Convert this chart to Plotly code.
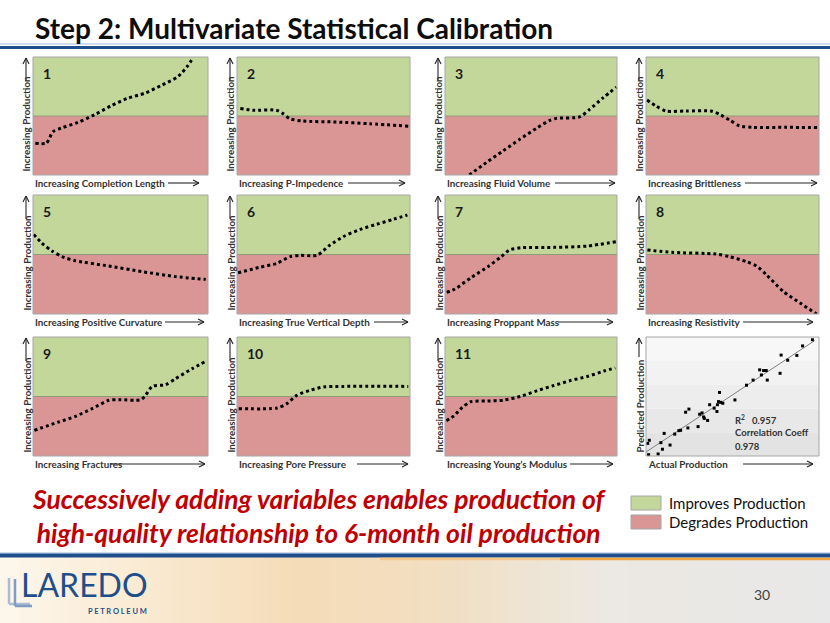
import plotly.graph_objects as go
import numpy as np

W, H = 830, 623

# ---------------- data (x, y as fraction of panel; 0.5 = neutral line) -------------
p1_x = [0.013, 0.076, 0.114, 0.162, 0.257, 0.352, 0.448, 0.543, 0.638, 0.733, 0.829, 0.886, 0.914]
p1_y = [0.27, 0.27, 0.366, 0.398, 0.446, 0.511, 0.588, 0.651, 0.693, 0.759, 0.835, 0.929, 0.994]
p2_x = [0.019, 0.093, 0.228, 0.266, 0.305, 0.382, 0.575, 0.768, 0.99]
p2_y = [0.563, 0.549, 0.549, 0.52, 0.477, 0.457, 0.449, 0.434, 0.414]
p3_x = [0.141, 0.242, 0.338, 0.435, 0.532, 0.609, 0.648, 0.783, 0.841, 0.919, 0.996]
p3_y = [0.0, 0.107, 0.205, 0.303, 0.396, 0.463, 0.48, 0.492, 0.556, 0.654, 0.744]
p4_x = [0.006, 0.058, 0.116, 0.232, 0.376, 0.425, 0.483, 0.541, 0.618, 0.811, 0.994]
p4_y = [0.635, 0.584, 0.542, 0.542, 0.542, 0.514, 0.466, 0.416, 0.404, 0.404, 0.402]
p5_x = [0.004, 0.052, 0.109, 0.166, 0.242, 0.433, 0.624, 0.815, 0.987]
p5_y = [0.669, 0.594, 0.529, 0.482, 0.448, 0.403, 0.356, 0.314, 0.291]
p6_x = [0.006, 0.129, 0.231, 0.308, 0.365, 0.462, 0.538, 0.615, 0.712, 0.808, 0.904, 0.985]
p6_y = [0.347, 0.392, 0.426, 0.482, 0.493, 0.493, 0.58, 0.65, 0.711, 0.754, 0.796, 0.832]
p7_x = [0.01, 0.058, 0.154, 0.25, 0.327, 0.375, 0.442, 0.635, 0.827, 0.996]
p7_y = [0.182, 0.21, 0.308, 0.398, 0.482, 0.538, 0.557, 0.56, 0.571, 0.608]
p8_x = [0.008, 0.15, 0.404, 0.482, 0.58, 0.639, 0.697, 0.795, 0.893, 0.986]
p8_y = [0.538, 0.518, 0.504, 0.482, 0.44, 0.403, 0.328, 0.188, 0.09, 0.0]
p9_x = [0.008, 0.147, 0.242, 0.338, 0.433, 0.49, 0.615, 0.643, 0.681, 0.758, 0.815, 0.91, 0.99]
p9_y = [0.216, 0.286, 0.333, 0.398, 0.468, 0.473, 0.473, 0.51, 0.585, 0.599, 0.65, 0.734, 0.798]
p10_x = [0.01, 0.231, 0.288, 0.346, 0.423, 0.5, 0.615, 0.99]
p10_y = [0.398, 0.403, 0.44, 0.51, 0.552, 0.58, 0.585, 0.585]
p11_x = [0.008, 0.052, 0.101, 0.149, 0.246, 0.342, 0.439, 0.536, 0.632, 0.729, 0.826, 0.923, 0.99]
p11_y = [0.296, 0.338, 0.408, 0.456, 0.462, 0.47, 0.501, 0.549, 0.592, 0.634, 0.668, 0.713, 0.741]

actual_prod = [0.010, 0.019, 0.015, 0.070, 0.086, 0.095, 0.105, 0.139, 0.166, 0.190, 0.200,
               0.229, 0.248, 0.242, 0.301, 0.310, 0.324, 0.333, 0.337, 0.356, 0.368, 0.394,
               0.410, 0.413, 0.419, 0.425, 0.432, 0.444, 0.514, 0.581, 0.619, 0.657, 0.667,
               0.680, 0.695, 0.701, 0.775, 0.781, 0.819, 0.872, 0.905, 0.962]
predicted_prod = [0.106, 0.132, 0.011, 0.017, 0.112, 0.057, 0.190, 0.092, 0.184, 0.213, 0.216,
                  0.368, 0.394, 0.236, 0.247, 0.351, 0.362, 0.328, 0.316, 0.299, 0.431, 0.402,
                  0.374, 0.431, 0.457, 0.534, 0.451, 0.443, 0.471, 0.595, 0.638, 0.724, 0.681,
                  0.718, 0.718, 0.638, 0.695, 0.848, 0.805, 0.845, 0.925, 0.977]

x_labels = ["Increasing Completion Length", "Increasing P-Impedence", "Increasing Fluid Volume",
            "Increasing Brittleness", "Increasing Positive Curvature", "Increasing True Vertical Depth",
            "Increasing Proppant Mass", "Increasing Resistivity", "Increasing Fractures",
            "Increasing Pore Pressure", "Increasing Young’s Modulus", "Actual Production"]
y_labels = ["Increasing Production"] * 11 + ["Predicted Production"]
panel_numbers = ["1", "2", "3", "4", "5", "6", "7", "8", "9", "10", "11"]
r2_text = "R<sup>2</sup>   0.957"
corr_text = "Correlation Coeff"
corr_value = "0.978"

curves_x = [p1_x, p2_x, p3_x, p4_x, p5_x, p6_x, p7_x, p8_x, p9_x, p10_x, p11_x]
curves_y = [p1_y, p2_y, p3_y, p4_y, p5_y, p6_y, p7_y, p8_y, p9_y, p10_y, p11_y]

# ---------------- layout geometry (pixels) ----------------
cols = [(33, 208), (237, 410), (445, 617), (646, 819)]
rows = [(57, 175), (195, 314), (337, 456)]
x_arrows = [(168, 199), (348, 405), (555, 615), (745, 817), (165, 204), (374, 408),
            (558, 613), (743, 813), (110, 205), (357, 408), (570, 613), (743, 813)]

GREEN = "#c4d79b"
RED = "#d99694"
FONT = "Lato"


def X(px):
    return px / W


def Y(py):
    return 1 - py / H


fig = go.Figure()
shapes = []
annotations = []
layout_axes = {}


def line(x0, y0, x1, y1, color, width):
    shapes.append(dict(type="line", xref="paper", yref="paper", x0=X(x0), y0=Y(y0),
                       x1=X(x1), y1=Y(y1), line=dict(color=color, width=width)))


def arrow(x0, y0, x1, y1, color="#262626", width=1.1):
    line(x0, y0, x1, y1, color, width)
    dx, dy = x1 - x0, y1 - y0
    L = (dx ** 2 + dy ** 2) ** 0.5
    ux, uy = dx / L, dy / L
    hl, hw = 6, 3
    for s in (1, -1):
        line(x1, y1, x1 - ux * hl - s * uy * hw, y1 - uy * hl + s * ux * hw, color, width)


for i in range(12):
    n = i + 1
    r, c = divmod(i, 4)
    (xl, xr), (yt, yb) = cols[c], rows[r]
    sfx = "" if n == 1 else str(n)
    layout_axes[f"xaxis{sfx}"] = dict(domain=[X(xl), X(xr)], range=[0, 1], visible=False,
                                      anchor=f"y{sfx}", fixedrange=True)
    layout_axes[f"yaxis{sfx}"] = dict(domain=[Y(yb), Y(yt)], range=[0, 1], visible=False,
                                      anchor=f"x{sfx}", fixedrange=True)
    xr_ = f"x{sfx} domain"
    yr_ = f"y{sfx} domain"
    if n < 12:
        shapes.append(dict(type="rect", xref=xr_, yref=yr_, x0=0, x1=1, y0=0.5, y1=1,
                           fillcolor=GREEN, line=dict(width=0), layer="below"))
        shapes.append(dict(type="rect", xref=xr_, yref=yr_, x0=0, x1=1, y0=0, y1=0.5,
                           fillcolor=RED, line=dict(width=0), layer="below"))
        shapes.append(dict(type="line", xref=xr_, yref=yr_, x0=0, x1=1, y0=0.5, y1=0.5,
                           line=dict(color="#8f9c78", width=1), layer="below"))
        fig.add_trace(go.Scatter(x=curves_x[i], y=curves_y[i], xaxis=f"x{sfx}", yaxis=f"y{sfx}",
                                 mode="lines", hoverinfo="skip", showlegend=False,
                                 line=dict(color="black", width=3, dash="dot",
                                           shape="spline", smoothing=0.7)))
        annotations.append(dict(xref="paper", yref="paper", x=X(xl + 8), y=Y(yt + 16),
                                xanchor="left", yanchor="middle", showarrow=False,
                                text=f"<b>{panel_numbers[i]}</b>",
                                font=dict(family=FONT, size=14, color="#1a1a1a")))
    else:
        # soft grey gradient background
        greys = ["#f7f7f7", "#f2f2f2", "#ededed", "#e8e8e8", "#e3e3e3"]
        for k, g in enumerate(greys):
            shapes.append(dict(type="rect", xref=xr_, yref=yr_, x0=0, x1=1,
                               y0=1 - (k + 1) / len(greys), y1=1 - k / len(greys),
                               fillcolor=g, line=dict(width=0), layer="below"))
        fit = np.polyfit(actual_prod, predicted_prod, 1)
        fx = [0.0, 0.975]
        fig.add_trace(go.Scatter(x=fx, y=[fit[0] * v + fit[1] for v in fx],
                                 xaxis=f"x{sfx}", yaxis=f"y{sfx}", mode="lines",
                                 hoverinfo="skip", showlegend=False,
                                 line=dict(color="#7f7f7f", width=1)))
        fig.add_trace(go.Scatter(x=actual_prod, y=predicted_prod, xaxis=f"x{sfx}", yaxis=f"y{sfx}",
                                 mode="markers", hoverinfo="skip", showlegend=False,
                                 marker=dict(color="black", size=3, symbol="square")))
        for k, t in enumerate([r2_text, corr_text, corr_value]):
            annotations.append(dict(xref="paper", yref="paper", x=X(733), y=Y(419 + k * 13.5),
                                    xanchor="left", yanchor="middle", showarrow=False,
                                    text=f"<b>{t}</b>",
                                    font=dict(family=FONT, size=9.5, color="#333333")))
    # border
    shapes.append(dict(type="rect", xref=xr_, yref=yr_, x0=0, x1=1, y0=0, y1=1,
                       fillcolor="rgba(0,0,0,0)", line=dict(color="#a6a6a6", width=1), layer="above"))
    # x label
    annotations.append(dict(xref="paper", yref="paper", x=X(xl), y=Y(yb + 8),
                            xanchor="left", yanchor="middle", showarrow=False,
                            text=f"<b>{x_labels[i]}</b>",
                            font=dict(family=FONT, size=9.8, color="#333333")))
    ax0, ax1 = x_arrows[i]
    arrow(ax0, yb + 8, ax1, yb + 8)
    # y label
    annotations.append(dict(xref="paper", yref="paper", x=X(xl - 7), y=Y(yb - 1),
                            xanchor="center", yanchor="bottom", showarrow=False, textangle=-90,
                            text=f"<b>{y_labels[i]}</b>",
                            font=dict(family=FONT, size=9.8, color="#333333")))
    arrow(xl - 7, yt + 24 if n < 12 else yt + 20, xl - 7, yt + 1)

# ---------------- title ----------------
annotations.append(dict(xref="paper", yref="paper", x=X(33), y=Y(28), xanchor="left",
                        yanchor="middle", showarrow=False,
                        text="<b>Step 2: Multivariate Statistical Calibration</b>",
                        font=dict(family=FONT, size=28, color="#0d0d0d")))
line(0, 44, W, 44, "#9dbbdc", 1)
line(0, 47.5, W, 47.5, "#1f4e8c", 3)

# ---------------- bottom message ----------------
annotations.append(dict(xref="paper", yref="paper", x=X(319), y=Y(516),
                        xanchor="center", yanchor="middle", showarrow=False,
                        text="<b><i>Successively adding variables enables production of"
                             "<br>high-quality relationship to 6-month oil production</i></b>",
                        font=dict(family=FONT, size=26.5, color="#c00000")))

# legend
for k, (col, t) in enumerate([(GREEN, "Improves Production"), (RED, "Degrades Production")]):
    yc = 503 + k * 19
    shapes.append(dict(type="rect", xref="paper", yref="paper", x0=X(631), x1=X(661),
                       y0=Y(yc + 7), y1=Y(yc - 7), fillcolor=col,
                       line=dict(color="#a6a6a6", width=1)))
    annotations.append(dict(xref="paper", yref="paper", x=X(667), y=Y(yc),
                            xanchor="left", yanchor="middle", showarrow=False,
                            text=t, font=dict(family=FONT, size=15, color="#111111")))

# ---------------- footer (smooth horizontal gradient) ----------------
stop_pos = [0, 120, 300, 430, 600, 830]
stop_rgb = [(253, 247, 236), (250, 236, 214), (245, 220, 184), (242, 222, 192),
            (236, 232, 226), (232, 232, 232)]
nstrip = 83
sw = W / nstrip
for k in range(nstrip):
    xc = (k + 0.5) * sw
    rgb = [int(round(np.interp(xc, stop_pos, [s[j] for s in stop_rgb]))) for j in range(3)]
    shapes.append(dict(type="rect", xref="paper", yref="paper", x0=X(k * sw), x1=X((k + 1) * sw + 0.6),
                       y0=Y(H), y1=Y(557), fillcolor=f"rgb({rgb[0]},{rgb[1]},{rgb[2]})",
                       line=dict(width=0), layer="below"))
line(0, 553, W, 553, "#9dbbdc", 1)
line(0, 555.5, W, 555.5, "#1f4e8c", 4)
line(380, 559, 560, 559, "#f6c98a", 2.5)
line(560, 559, W, 559, "#f0a43c", 2.5)

# logo
logo_blue = "#1f4f8a"
for k, (xx, col) in enumerate([(9, "#a9bcd6"), (15, "#7f9cc4")]):
    line(xx, 578 + k * 1, xx, 604 + k * 2, col, 2.5)
    line(xx, 604 + k * 2, 30 + k * 2, 604 + k * 2, col, 2.5)
annotations.append(dict(xref="paper", yref="paper", x=X(19), y=Y(584), xanchor="left",
                        yanchor="middle", showarrow=False, text="LAREDO",
                        font=dict(family=FONT, size=32, color=logo_blue)))
annotations.append(dict(xref="paper", yref="paper", x=X(149), y=Y(611), xanchor="right",
                        yanchor="middle", showarrow=False, text="<b>P E T R O L E U M</b>",
                        font=dict(family=FONT, size=7.5, color=logo_blue)))
annotations.append(dict(xref="paper", yref="paper", x=X(762), y=Y(594), xanchor="center",
                        yanchor="middle", showarrow=False, text="30",
                        font=dict(family=FONT, size=14, color="#404040")))

fig.update_layout(width=W, height=H, margin=dict(l=0, r=0, t=0, b=0),
                  paper_bgcolor="white", plot_bgcolor="rgba(0,0,0,0)",
                  shapes=shapes, annotations=annotations, showlegend=False, **layout_axes)

fig.write_html("out.html", config={"displayModeBar": False})
